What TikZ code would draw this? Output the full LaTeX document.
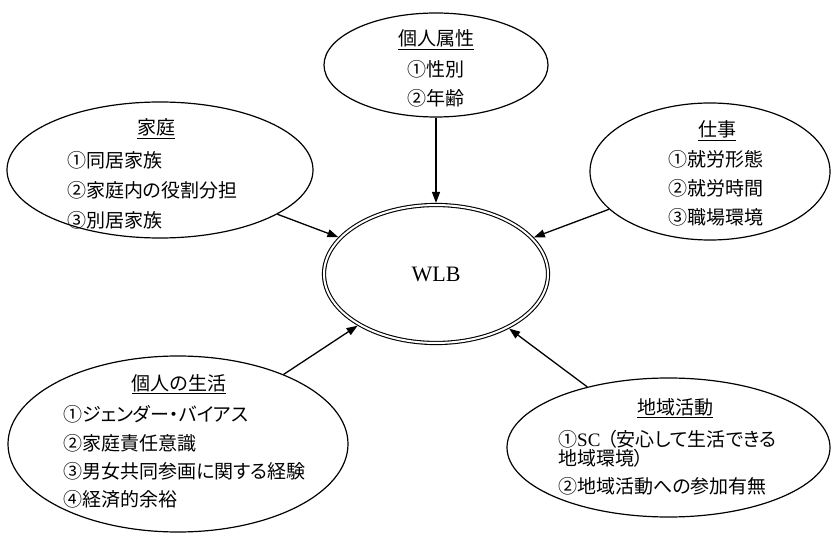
\documentclass[tikz,border=0pt]{standalone}
\usepackage{fontspec}
\setmainfont{Liberation Serif}
\newfontfamily\jpfont[RawFeature=+palt]{Noto Sans CJK JP}
\usetikzlibrary{arrows.meta,shapes.geometric}
\begin{document}
\begin{tikzpicture}[x=1pt,y=-1pt,
  oval/.style={draw,ellipse,line width=1.2pt,inner sep=0pt,outer sep=0.6pt},
  wlbshape/.style={draw,ellipse,double,double distance=2pt,line width=1.1pt,inner sep=0pt,outer sep=2.1pt,font=\fontsize{22}{22}\selectfont},
  arr/.style={-{Triangle[length=11pt,width=8pt]},line width=1.3pt},
  jp/.style={font=\jpfont\fontsize{19}{19}\selectfont},
  ttl/.style={jp,anchor=base,inner sep=0pt},
  itm/.style={jp,anchor=base west,inner sep=0pt},
  itc/.style={jp,anchor=base,inner sep=0pt}]
\useasboundingbox (0,0) rectangle (832,534);

% 個人属性
\node[oval,minimum width=224,minimum height=104] (zokusei) at (436,65) {};
\node[ttl] (zokuseiT) at (436,46) {\underline{個人属性}};
\node[itc] (zokusei1) at (436,77) {①性別};
\node[itc] (zokusei2) at (436,106) {②年齢};

% 家庭
\node[oval,minimum width=306,minimum height=136] (katei) at (160,170) {};
\node[ttl] (kateiT) at (156,135) {\underline{家庭}};
\node[itm] (katei1) at (67,168) {①同居家族};
\node[itm] (katei2) at (67,198) {②家庭内の役割分担};
\node[itm] (katei3) at (67,228) {③別居家族};

% 仕事
\node[oval,minimum width=240,minimum height=137] (shigoto) at (710,171.5) {};
\node[ttl] (shigotoT) at (717,137) {\underline{仕事}};
\node[itm] (shigoto1) at (668,167) {①就労形態};
\node[itm] (shigoto2) at (668,196) {②就労時間};
\node[itm] (shigoto3) at (668,225) {③職場環境};

% WLB
\node[wlbshape,minimum width=224,minimum height=138] (wlb) at (436,274) {WLB};

% 個人の生活
\node[oval,minimum width=340,minimum height=176] (seikatsu) at (178,444) {};
\node[ttl] (seikatsuT) at (179,390) {\underline{個人の生活}};
\node[itm] (seikatsu1) at (63,421) {①ジェンダー・バイアス};
\node[itm] (seikatsu2) at (63,450) {②家庭責任意識};
\node[itm] (seikatsu3) at (63,478) {③男女共同参画に関する経験};
\node[itm] (seikatsu4) at (63,506) {④経済的余裕};

% 地域活動
\node[oval,minimum width=323,minimum height=139] (chiiki) at (668.5,447.5) {};
\node[ttl] (chiikiT) at (675,414) {\underline{地域活動}};
\node[itm] (chiiki1) at (558,446) {①{\rmfamily SC}\hspace{7pt}（安心して生活できる};
\node[itm] (chiiki1b) at (558,465) {地域環境）};
\node[itm] (chiiki2) at (558,493) {②地域活動への参加有無};

% connectors
\draw[arr] (zokusei) -- (wlb);
\draw[arr] (katei) -- (wlb);
\draw[arr] (shigoto) -- (wlb);
\draw[arr] (seikatsu) -- (wlb);
\draw[arr] (chiiki) -- (wlb);
\end{tikzpicture}
\end{document}
